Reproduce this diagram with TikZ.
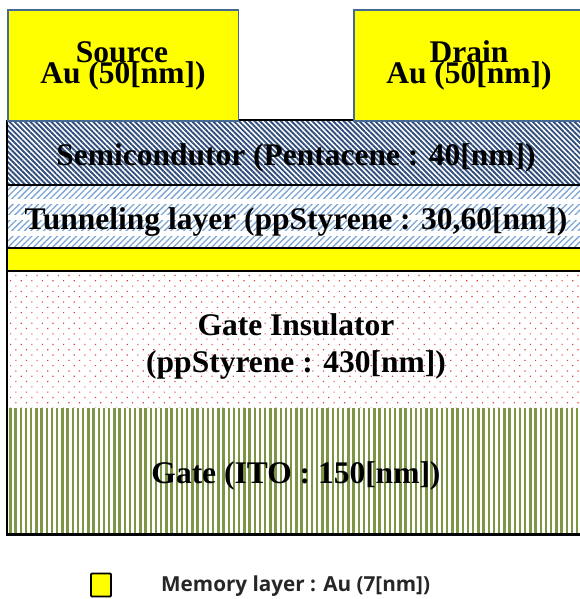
\documentclass[tikz,border=0pt]{standalone}
\usepackage{fontspec}
\setmainfont{Liberation Serif}
\newfontfamily\legendfont{Open Sans}
\usetikzlibrary{patterns.meta}
\definecolor{edgeblue}{RGB}{70,105,150}
\definecolor{semiblue}{RGB}{50,78,125}
\definecolor{tunblue}{RGB}{125,165,210}
\definecolor{dotred}{RGB}{225,60,60}
\definecolor{gategreen}{RGB}{125,150,70}
\definecolor{auyellow}{RGB}{255,255,0}
\tikzset{
  x=1pt,y=-1pt,
  layertext/.style={font=\bfseries\fontsize{31.5}{36}\selectfont,text=black,align=center,inner sep=0pt},
  contact/.style={fill=auyellow,draw=edgeblue,line width=1.6pt},
  layerline/.style={draw=black,line width=2pt},
}
\begin{document}
\begin{tikzpicture}
\useasboundingbox (0,0) rectangle (580,599);
% layers
\fill[white] (7,121) rectangle (580,534);
\path[pattern={Lines[angle=-45,distance=3.7pt,line width=1.9pt]},pattern color=semiblue] (7,121) rectangle (580,184);
\path[pattern={Lines[angle=45,distance=4.5pt,line width=1.3pt]},pattern color=tunblue] (7,185) rectangle (580,247);
\fill[white] (7,199) rectangle (580,204);
\fill[white] (7,215) rectangle (580,220);
\fill[white] (7,231) rectangle (580,236);
\fill[auyellow] (7,248) rectangle (580,270);
\path[pattern={Dots[angle=45,distance=7.5pt,radius=.8pt]},pattern color=dotred] (7,272) rectangle (580,407);
\path[pattern={Lines[angle=90,distance=5.2pt,line width=2.5pt]},pattern color=gategreen] (7,408) rectangle (580,534);
% outlines
\draw[layerline] (238,120.5) -- (353,120.5);
\draw[layerline] (7,184.5) -- (580,184.5);
\draw[layerline] (7,247.5) -- (580,247.5);
\draw[layerline] (7,270.5) -- (580,270.5);
\draw[black,line width=2.2pt] (7,120) -- (7,534.5) -- (580,534.5);
% contacts
\node[contact,minimum width=230.5pt,minimum height=111pt,anchor=north west,inner sep=0pt] (source) at (7,9.5) {};
\node[contact,minimum width=229pt,minimum height=111pt,anchor=north west,inner sep=0pt] (drain) at (353,9.5) {};
\node[layertext] (sourcet) at (122,52) {Source};
\node[layertext] (sourceau) at (123,76) {Au (50[nm])};
\node[layertext] (draint) at (469,52) {Drain};
\node[layertext] (drainau) at (469,76) {Au (50[nm])};
\node[layertext] (semi) at (296,158) {Semicondutor (Pentacene : 40[nm])};
\node[layertext] (tunnel) at (296,222) {Tunneling layer (ppStyrene : 30,60[nm])};
\node[layertext] (ins1) at (296,324.5) {Gate Insulator};
\node[layertext] (ins2) at (296,365) {(ppStyrene : 430[nm])};
\node[layertext] (gate) at (296,476) {Gate (ITO : 150[nm])};
% legend
\node[fill=auyellow,draw=black,line width=1.8pt,minimum width=20pt,minimum height=23pt,inner sep=0pt,rounded corners=1pt] (swatch) at (101,585) {};
\node[font=\legendfont\bfseries\fontsize{20.7}{24}\selectfont,inner sep=0pt,anchor=west,text=black!85] (legend) at (161,586) {Memory layer : Au (7[nm])};
\end{tikzpicture}
\end{document}
